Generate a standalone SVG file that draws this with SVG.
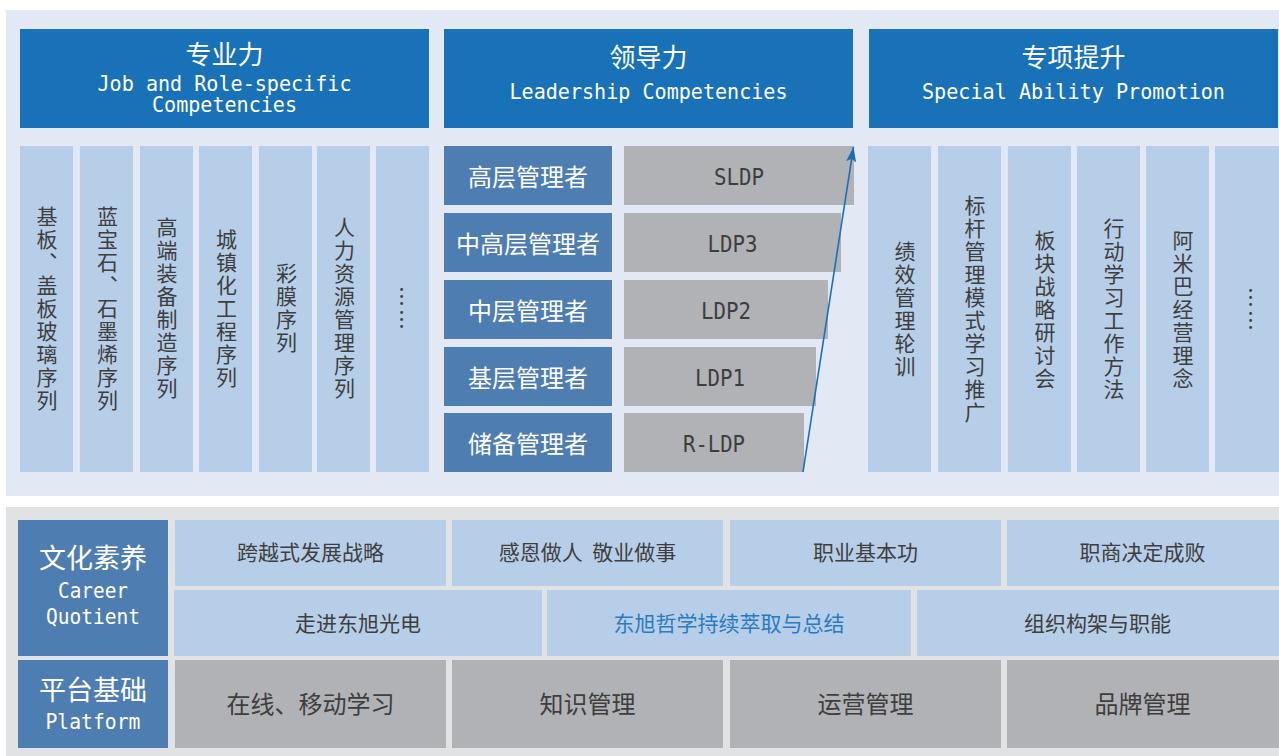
<svg xmlns="http://www.w3.org/2000/svg" width="1279" height="756" viewBox="0 0 1279 756">
<style>
.panelTop{fill:#E3E9F4}
.panelBot{fill:#E1E2E4}
.hdr{fill:#1971B8}
.lbl{fill:#4E7DB1}
.col{fill:#B7CEE8}
.gry{fill:#B1B2B5}
.cj{font-family:"Noto Sans CJK SC","Noto Sans",sans-serif}
.mono{font-family:"DejaVu Sans Mono","Liberation Mono",monospace}
.w{fill:#FFFFFF}
.d{fill:#3E3E3E}
.c{text-anchor:middle}
.vt{font-family:"Noto Sans CJK SC",sans-serif;font-size:21px;fill:#3E3E3E;writing-mode:vertical-rl;text-anchor:middle;letter-spacing:2px}
</style>
<defs>
<marker id="ah" markerUnits="userSpaceOnUse" markerWidth="16" markerHeight="12" refX="15" refY="6" orient="auto">
<path d="M0,1 L15,6 L0,11 L3,6 Z" fill="#1A70B8"/>
</marker>
</defs>

<rect class="panelTop" x="6" y="10" width="1273" height="486"/>
<rect class="panelBot" x="6" y="507" width="1273" height="249"/>

<g id="header-professional">
<rect class="hdr" x="20" y="29" width="409" height="99"/>
<text class="cj w c" x="224.5" y="63.5" font-size="26">专业力</text>
<text class="mono w c" x="224.5" y="91" font-size="21.5" textLength="254" lengthAdjust="spacingAndGlyphs">Job and Role-specific</text>
<text class="mono w c" x="224.5" y="112" font-size="21.5" textLength="145" lengthAdjust="spacingAndGlyphs">Competencies</text>
</g>
<g id="header-leadership">
<rect class="hdr" x="444" y="29" width="409" height="99"/>
<text class="cj w c" x="648.5" y="66.5" font-size="26">领导力</text>
<text class="mono w c" x="648.5" y="99" font-size="21.5" textLength="278" lengthAdjust="spacingAndGlyphs">Leadership Competencies</text>
</g>
<g id="header-special">
<rect class="hdr" x="869" y="29" width="409" height="99"/>
<text class="cj w c" x="1073.5" y="66.5" font-size="26">专项提升</text>
<text class="mono w c" x="1073.5" y="99" font-size="21.5" textLength="303" lengthAdjust="spacingAndGlyphs">Special Ability Promotion</text>
</g>

<g id="prof-columns">
<g id="col-substrate"><rect class="col" x="20" y="146" width="53" height="326"/><text class="vt" x="47" y="309">基板、盖板玻璃序列</text></g>
<g id="col-sapphire"><rect class="col" x="80" y="146" width="53" height="326"/><text class="vt" x="107.5" y="309">蓝宝石、石墨烯序列</text></g>
<g id="col-equipment"><rect class="col" x="140" y="146" width="53" height="326"/><text class="vt" x="167" y="309">高端装备制造序列</text></g>
<g id="col-urban"><rect class="col" x="199" y="146" width="53" height="326"/><text class="vt" x="226.5" y="309">城镇化工程序列</text></g>
<g id="col-color"><rect class="col" x="259" y="146" width="53" height="326"/><text class="vt" x="286.5" y="309">彩膜序列</text></g>
<g id="col-hr"><rect class="col" x="317" y="146" width="53" height="326"/><text class="vt" x="344.5" y="309">人力资源管理序列</text></g>
<g id="col-more1"><rect class="col" x="376" y="146" width="53" height="326"/><text class="vt" x="403" y="309">……</text></g>
</g>

<g id="leadership-levels">
<g id="lvl-senior"><rect class="lbl" x="444" y="146" width="168" height="59"/><text class="cj w c" x="528" y="185.5" font-size="24">高层管理者</text>
<rect class="gry" x="624" y="146" width="230" height="59"/><text class="mono d c" x="739" y="185" font-size="23" textLength="50" lengthAdjust="spacingAndGlyphs">SLDP</text></g>
<g id="lvl-midsenior"><rect class="lbl" x="444" y="213" width="168" height="59"/><text class="cj w c" x="528" y="252.5" font-size="24">中高层管理者</text>
<rect class="gry" x="624" y="213" width="217" height="59"/><text class="mono d c" x="732.5" y="252" font-size="23" textLength="50" lengthAdjust="spacingAndGlyphs">LDP3</text></g>
<g id="lvl-middle"><rect class="lbl" x="444" y="280" width="168" height="59"/><text class="cj w c" x="528" y="319.5" font-size="24">中层管理者</text>
<rect class="gry" x="624" y="280" width="204" height="59"/><text class="mono d c" x="726" y="319" font-size="23" textLength="50" lengthAdjust="spacingAndGlyphs">LDP2</text></g>
<g id="lvl-base"><rect class="lbl" x="444" y="347" width="168" height="59"/><text class="cj w c" x="528" y="386.5" font-size="24">基层管理者</text>
<rect class="gry" x="624" y="347" width="192" height="59"/><text class="mono d c" x="720" y="386" font-size="23" textLength="50" lengthAdjust="spacingAndGlyphs">LDP1</text></g>
<g id="lvl-reserve"><rect class="lbl" x="444" y="413" width="168" height="59"/><text class="cj w c" x="528" y="452.5" font-size="24">储备管理者</text>
<rect class="gry" x="624" y="413" width="180" height="59"/><text class="mono d c" x="714" y="452" font-size="23" textLength="62" lengthAdjust="spacingAndGlyphs">R-LDP</text></g>
</g>

<g id="connectors">
<line x1="803" y1="472" x2="853.5" y2="147" stroke="#1A70B8" stroke-width="1.6" marker-end="url(#ah)"/>
</g>

<g id="special-columns">
<g id="sp-perf"><rect class="col" x="868" y="146" width="63" height="326"/><text class="vt" x="905" y="310">绩效管理轮训</text></g>
<g id="sp-bench"><rect class="col" x="938" y="146" width="63" height="326"/><text class="vt" x="975" y="310">标杆管理模式学习推广</text></g>
<g id="sp-seminar"><rect class="col" x="1008" y="146" width="63" height="326"/><text class="vt" x="1045" y="310">板块战略研讨会</text></g>
<g id="sp-action"><rect class="col" x="1077" y="146" width="63" height="326"/><text class="vt" x="1114" y="310">行动学习工作方法</text></g>
<g id="sp-amoeba"><rect class="col" x="1146" y="146" width="63" height="326"/><text class="vt" x="1183" y="310">阿米巴经营理念</text></g>
<g id="sp-more"><rect class="col" x="1215" y="146" width="64" height="326"/><text class="vt" x="1252" y="310">……</text></g>
</g>

<g id="culture-label">
<rect class="lbl" x="18" y="520" width="150" height="136"/>
<text class="cj w c" x="93" y="568" font-size="27">文化素养</text>
<text class="mono w c" x="93" y="598" font-size="21" textLength="70" lengthAdjust="spacingAndGlyphs">Career</text>
<text class="mono w c" x="93" y="624" font-size="21" textLength="94" lengthAdjust="spacingAndGlyphs">Quotient</text>
</g>
<g id="platform-label">
<rect class="lbl" x="18" y="660" width="150" height="88"/>
<text class="cj w c" x="93" y="700" font-size="27">平台基础</text>
<text class="mono w c" x="93" y="729" font-size="21.5" textLength="95" lengthAdjust="spacingAndGlyphs">Platform</text>
</g>

<g id="culture-row1">
<g id="c-leap"><rect class="col" x="175" y="520" width="271" height="66"/><text class="cj d c" x="310.5" y="560" font-size="21">跨越式发展战略</text></g>
<g id="c-grateful"><rect class="col" x="452" y="520" width="271" height="66"/><text class="cj d c" x="587.5" y="560" font-size="21" xml:space="preserve">感恩做人  敬业做事</text></g>
<g id="c-basic"><rect class="col" x="730" y="520" width="271" height="66"/><text class="cj d c" x="865.5" y="560" font-size="21">职业基本功</text></g>
<g id="c-cq"><rect class="col" x="1007" y="520" width="272" height="66"/><text class="cj d c" x="1142.5" y="560" font-size="21">职商决定成败</text></g>
</g>
<g id="culture-row2">
<g id="c-intro"><rect class="col" x="174" y="590" width="368" height="66"/><text class="cj d c" x="358" y="631" font-size="21">走进东旭光电</text></g>
<g id="c-philo"><rect class="col" x="547" y="590" width="364" height="66"/><text class="cj c" x="729" y="631" font-size="21" fill="#2A7BC0">东旭哲学持续萃取与总结</text></g>
<g id="c-org"><rect class="col" x="917" y="590" width="362" height="66"/><text class="cj d c" x="1097.5" y="631" font-size="21">组织构架与职能</text></g>
</g>
<g id="platform-row">
<g id="p-online"><rect class="gry" x="175" y="660" width="271" height="88"/><text class="cj d c" x="310.5" y="713" font-size="24">在线、移动学习</text></g>
<g id="p-knowledge"><rect class="gry" x="452" y="660" width="271" height="88"/><text class="cj d c" x="587.5" y="713" font-size="24">知识管理</text></g>
<g id="p-ops"><rect class="gry" x="730" y="660" width="271" height="88"/><text class="cj d c" x="865.5" y="713" font-size="24">运营管理</text></g>
<g id="p-brand"><rect class="gry" x="1007" y="660" width="272" height="88"/><text class="cj d c" x="1142.5" y="713" font-size="24">品牌管理</text></g>
</g>
</svg>
